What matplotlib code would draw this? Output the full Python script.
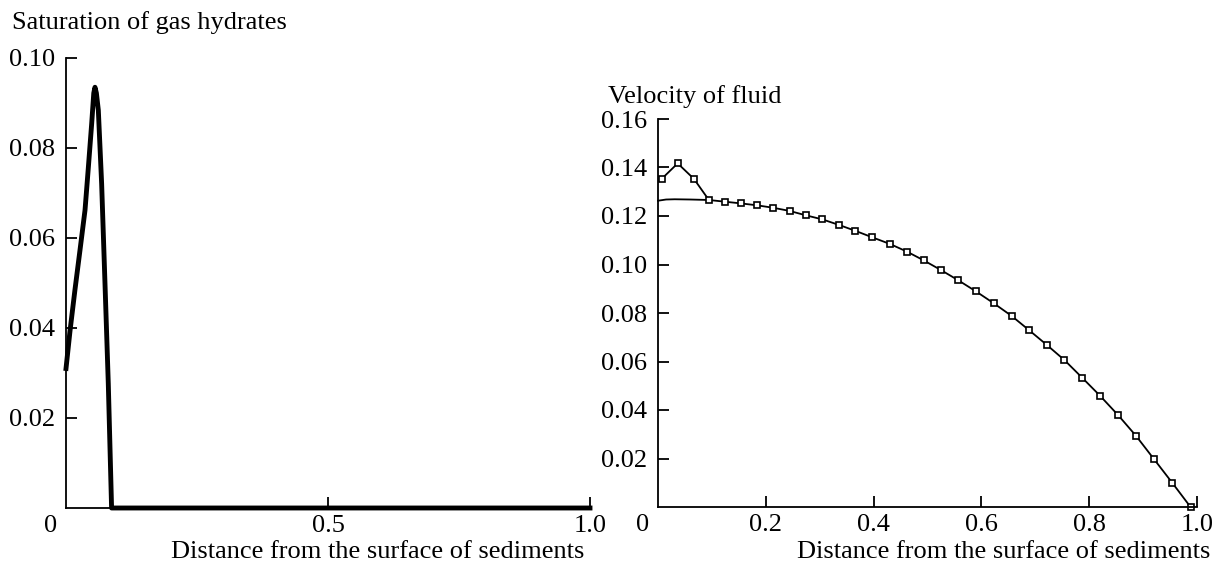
import matplotlib
matplotlib.use("Agg")
import matplotlib.pyplot as plt
import matplotlib.transforms as mtransforms

plt.rcParams['font.family'] = ['Liberation Serif', 'DejaVu Serif']

# Left panel: saturation of gas hydrates
sat_x = [0.0, 0.0076, 0.017, 0.0267, 0.0363, 0.0426, 0.049, 0.053, 0.0553, 0.058,
         0.0617, 0.068, 0.0744, 0.0807, 0.087, 1.0]
sat_y = [0.031, 0.0393, 0.0484, 0.0573, 0.0662, 0.0756, 0.0854, 0.0922, 0.0935, 0.0922,
         0.0884, 0.0721, 0.0499, 0.0277, 0.0, 0.0]

# Right panel: velocity of fluid (marker series)
vel_x = [0.0068, 0.0365, 0.0667, 0.0944, 0.124, 0.1537, 0.184, 0.2136, 0.244, 0.274,
         0.305, 0.336, 0.366, 0.3976, 0.430, 0.462, 0.493, 0.525, 0.557, 0.590,
         0.623, 0.656, 0.688, 0.721, 0.754, 0.787, 0.820, 0.854, 0.887, 0.920,
         0.954, 0.988]
vel_y = [0.1353, 0.1417, 0.1353, 0.1266, 0.1259, 0.1252, 0.1244, 0.1234, 0.1221, 0.1203,
         0.1186, 0.1163, 0.1139, 0.1112, 0.1085, 0.1053, 0.1017, 0.0977, 0.0935, 0.0889,
         0.0840, 0.0788, 0.0730, 0.0669, 0.0606, 0.0533, 0.0459, 0.0378, 0.0293, 0.0198,
         0.0100, 0.0]
# Smooth series (no markers), early part before it merges
smooth_x = [0.0, 0.015, 0.031, 0.06, 0.0944]
smooth_y = [0.1263, 0.1268, 0.1269, 0.1268, 0.1266]

left_xticks = [0, 0.5, 1.0]
left_xlabels = ['0', '0.5', '1.0']
left_yticks = [0.02, 0.04, 0.06, 0.08, 0.10]
left_ylabels = ['0.02', '0.04', '0.06', '0.08', '0.10']
right_xticks = [0, 0.2, 0.4, 0.6, 0.8, 1.0]
right_xlabels = ['0', '0.2', '0.4', '0.6', '0.8', '1.0']
right_yticks = [0.02, 0.04, 0.06, 0.08, 0.10, 0.12, 0.14, 0.16]
right_ylabels = ['0.02', '0.04', '0.06', '0.08', '0.10', '0.12', '0.14', '0.16']

fig = plt.figure(figsize=(12.16, 5.64), dpi=100)
fs = 19

axL = fig.add_axes([66/1216, 1-508/564, (590-66)/1216, (508-58)/564])
axR = fig.add_axes([658/1216, 1-507/564, (1197-658)/1216, (507-119)/564])

axL.plot(sat_x, sat_y, color='black', lw=3.5, solid_joinstyle='round', clip_on=False)
axL.set_xlim(0, 1.0)
axL.set_ylim(0, 0.10)

axR.plot(smooth_x, smooth_y, color='black', lw=1.3, clip_on=False)
axR.plot(vel_x, vel_y, color='black', lw=1.3, marker='s', ms=5, mfc='white',
         mec='black', mew=1.2, clip_on=False)
axR.set_xlim(0, 1.0)
axR.set_ylim(0, 0.16)

for ax, xt, xl, yt, yl in [(axL, left_xticks, left_xlabels, left_yticks, left_ylabels),
                           (axR, right_xticks, right_xlabels, right_yticks, right_ylabels)]:
    for s in ['top', 'right']:
        ax.spines[s].set_visible(False)
    for s in ['left', 'bottom']:
        ax.spines[s].set_linewidth(1.3)
    ax.set_xticks(xt)
    ax.set_xticklabels(xl)
    ax.set_yticks(yt)
    ax.set_yticklabels(yl)
    ax.tick_params(direction='in', length=8, width=1.3, labelsize=fs, pad=5)
    ax.tick_params(axis='y', pad=8)
    # shift the "0" label slightly left and hide its tick
    off = mtransforms.ScaledTranslation(-15/100, 0, fig.dpi_scale_trans)
    lbl = ax.get_xticklabels()[0]
    lbl.set_transform(lbl.get_transform() + off)
    ax.xaxis.get_major_ticks()[0].tick1line.set_visible(False)

fig.text(12/1216, 1-23/564, 'Saturation of gas hydrates', fontsize=fs, ha='left', va='center')
fig.text(608/1216, 1-97/564, 'Velocity of fluid', fontsize=fs, ha='left', va='center')
fig.text(584/1216, 1-552/564, 'Distance from the surface of sediments', fontsize=fs, ha='right', va='center')
fig.text(1210/1216, 1-552/564, 'Distance from the surface of sediments', fontsize=fs, ha='right', va='center')

fig.savefig('out.png', dpi=100)
